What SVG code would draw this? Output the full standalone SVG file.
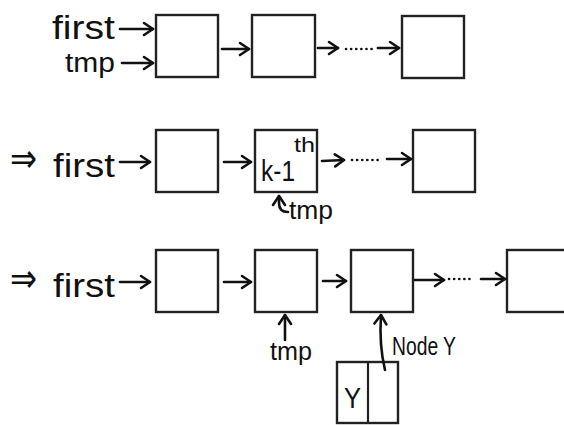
<svg xmlns="http://www.w3.org/2000/svg" width="564" height="425" viewBox="0 0 564 425">
  <defs>
    <marker id="head" markerUnits="userSpaceOnUse" markerWidth="14" markerHeight="16" viewBox="-11 -8 13 16" refX="0" refY="0" orient="auto">
      <path d="M-9,-6 L0,0 L-9,6" fill="none" stroke="#111" stroke-width="2.6" stroke-linecap="round" stroke-linejoin="round"/>
    </marker>
    <style>
      .box { fill: #fff; stroke: #222; stroke-width: 2.4; }
      .wire { fill: none; stroke: #222; stroke-width: 2.2; }
      .arrow { fill: none; stroke: #111; stroke-width: 2.6; stroke-linecap: round; marker-end: url(#head); }
      .dots { fill: none; stroke: #111; stroke-width: 2.6; stroke-linecap: round; stroke-dasharray: 0.1 5; }
      .hand { font-family: "Liberation Sans", "DejaVu Sans", sans-serif; fill: #111; }
      .label { font-size: 33px; }
      .ptr { font-size: 27px; }
      .small { font-size: 25px; }
      .imp { font-family: "DejaVu Sans", sans-serif; font-size: 40px; fill: #111; }
    </style>
  </defs>

  <!-- row 1: initial list -->
  <g id="r1-first"><text class="hand label" x="52" y="39" textLength="63" lengthAdjust="spacingAndGlyphs">first</text></g>
  <g id="r1-tmp"><text class="hand ptr" x="65" y="72" textLength="50" lengthAdjust="spacingAndGlyphs">tmp</text></g>
  <g id="r1-n1"><rect class="box" x="156" y="15" width="62" height="62"/></g>
  <g id="r1-n2"><rect class="box" x="252" y="15" width="63" height="62"/></g>
  <g id="r1-n3"><rect class="box" x="402" y="16" width="62" height="62"/></g>

  <!-- row 2: tmp advanced to k-1 -->
  <g id="r2-imp"><text class="imp" x="10" y="172" textLength="27" lengthAdjust="spacingAndGlyphs">⇒</text></g>
  <g id="r2-first"><text class="hand label" x="53" y="177" textLength="62" lengthAdjust="spacingAndGlyphs">first</text></g>
  <g id="r2-n1"><rect class="box" x="156" y="130" width="62" height="62"/></g>
  <g id="r2-n2">
    <rect class="box" x="255" y="130" width="62" height="62"/>
    <text class="hand" x="261" y="181" font-size="30" textLength="34" lengthAdjust="spacingAndGlyphs">k-1</text>
    <text class="hand" x="294" y="152" font-size="20" textLength="21" lengthAdjust="spacingAndGlyphs">th</text>
  </g>
  <g id="r2-n3"><rect class="box" x="413" y="130" width="62" height="62"/></g>
  <g id="r2-tmp"><text class="hand small" x="289" y="219" textLength="44" lengthAdjust="spacingAndGlyphs">tmp</text></g>

  <!-- row 3: insert node Y after tmp -->
  <g id="r3-imp"><text class="imp" x="10" y="292" textLength="27" lengthAdjust="spacingAndGlyphs">⇒</text></g>
  <g id="r3-first"><text class="hand label" x="53" y="297" textLength="62" lengthAdjust="spacingAndGlyphs">first</text></g>
  <g id="r3-n1"><rect class="box" x="156" y="250" width="62" height="62"/></g>
  <g id="r3-n2"><rect class="box" x="255" y="250" width="62" height="62"/></g>
  <g id="r3-n3"><rect class="box" x="351" y="250" width="62" height="62"/></g>
  <g id="r3-n4"><rect class="box" x="507" y="250" width="62" height="62"/></g>
  <g id="r3-tmp"><text class="hand small" x="270" y="360" textLength="42" lengthAdjust="spacingAndGlyphs">tmp</text></g>
  <g id="r3-nodeY-label"><text class="hand" x="392" y="355" font-size="26" textLength="64" lengthAdjust="spacingAndGlyphs">Node Y</text></g>
  <g id="r3-nodeY">
    <rect class="box" x="337" y="362" width="61" height="61"/>
    <line class="wire" x1="368" y1="362" x2="368" y2="423"/>
    <text class="hand" x="344" y="408" font-size="30" textLength="17" lengthAdjust="spacingAndGlyphs">Y</text>
  </g>

  <g id="connectors">
    <!-- row 1 -->
    <path class="arrow" d="M120,29 L153,29"/>
    <path class="arrow" d="M122,63 L153,63"/>
    <path class="arrow" d="M222,49 L249,49"/>
    <path class="arrow" d="M318,48 L338,48"/>
    <path class="dots" d="M346,49 L374,49"/>
    <path class="arrow" d="M378,48 L399,48"/>
    <!-- row 2 -->
    <path class="arrow" d="M120,162 L150,162"/>
    <path class="arrow" d="M224,162 L251,162"/>
    <path class="arrow" d="M322,161 L344,160"/>
    <path class="dots" d="M352,160 L380,160"/>
    <path class="arrow" d="M387,159 L411,159"/>
    <path class="arrow" d="M288,212 Q279,212 279,203 L279,196"/>
    <!-- row 3 -->
    <path class="arrow" d="M120,282 L150,282"/>
    <path class="arrow" d="M224,282 L251,282"/>
    <path class="arrow" d="M323,281 L346,281"/>
    <path class="arrow" d="M415,280 L444,280"/>
    <path class="dots" d="M449,279 L474,279"/>
    <path class="arrow" d="M481,279 L505,279"/>
    <path class="arrow" d="M285,340 L285,315"/>
    <path class="arrow" d="M385,370 Q379,345 381,315"/>
  </g>
</svg>
